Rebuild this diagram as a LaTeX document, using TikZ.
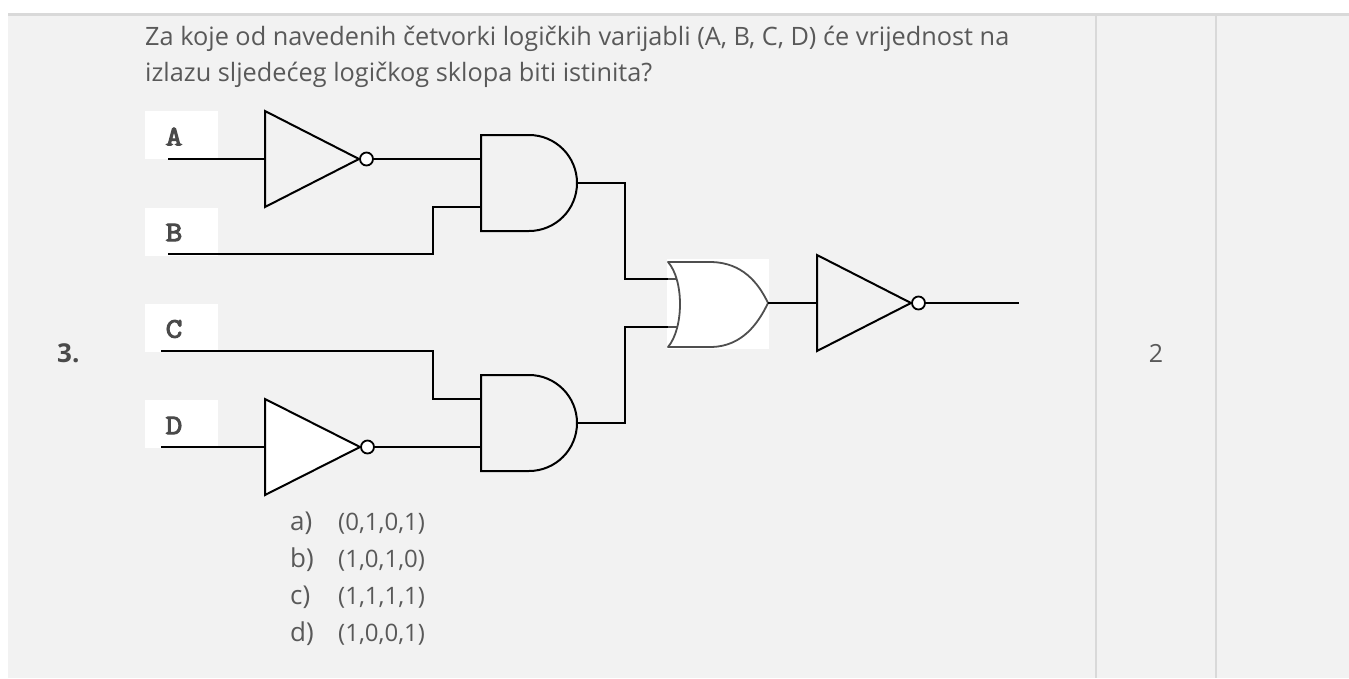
\documentclass[tikz,border=0pt]{standalone}
\usepackage{fontspec}
\setmainfont{Open Sans}
\newfontfamily\monofont[FakeBold=4,FakeStretch=1.15]{Latin Modern Mono}
\definecolor{bg}{HTML}{F2F2F2}
\definecolor{rulec}{HTML}{D9D9D9}
\definecolor{txt}{HTML}{595959}
\definecolor{lbl}{HTML}{4A4A4A}
\definecolor{orline}{HTML}{4F4F4F}
\tikzset{
  wire/.style={line width=2pt,black},
  gate/.style={line width=2pt,black,line join=miter},
  orgate/.style={line width=1.8pt,orline,line join=round},
  bubble/.style={circle,draw=black,line width=1.8pt,fill=white,minimum size=13pt,inner sep=0pt},
  lblbox/.style={fill=white,minimum width=73pt,minimum height=48pt,inner sep=0pt},
  lbltext/.style={inner sep=0pt,text=lbl,font=\monofont\fontsize{28}{32}\selectfont},
  head/.style={anchor=base west,inner sep=0pt,text=txt,font=\fontsize{25.3}{29}\selectfont},
  optl/.style={anchor=base west,inner sep=0pt,text=txt,font=\fontsize{26}{30}\selectfont},
  optv/.style={anchor=base west,inner sep=0pt,text=txt,font=\fontsize{24}{28}\selectfont},
}
\begin{document}
\begin{tikzpicture}[x=1pt,y=-1pt]
\useasboundingbox (0,0) rectangle (1349,678);
% page and table
\fill[white] (0,0) rectangle (1349,678);
\fill[bg] (8,15) rectangle (1349,678);
\fill[rulec] (8,12.5) rectangle (1349,15.5);
\fill[rulec] (1095,15) rectangle (1097,678);
\fill[rulec] (1215,15) rectangle (1217,678);

% texts
\node[head] (q1) at (145,45) {Za koje od navedenih četvorki logičkih varijabli (A, B, C, D) će vrijednost na};
\node[head] (q2) at (145,81) {izlazu sljedećeg logičkog sklopa biti istinita?};
\node[anchor=base west,inner sep=0pt,text=lbl,font=\bfseries\fontsize{26}{30}\selectfont] (num) at (57,362) {3.};
\node[anchor=base,inner sep=0pt,text=txt,font=\fontsize{25}{29}\selectfont] (pts) at (1156,362) {2};

\node[optl] (la) at (290,530) {a)};
\node[optl] (lb) at (290,567) {b)};
\node[optl] (lc) at (290,604) {c)};
\node[optl] (ld) at (290,641) {d)};
\node[optv] (va) at (338,530) {(0,1,0,1)};
\node[optv] (vb) at (338,567) {(1,0,1,0)};
\node[optv] (vc) at (338,604) {(1,1,1,1)};
\node[optv] (vd) at (338,641) {(1,0,0,1)};

% input label boxes
\node[lblbox] (boxA) at (181.5,135) {};
\node[lblbox] (boxB) at (181.5,231.5) {};
\node[lblbox] (boxC) at (181.5,327.5) {};
\node[lblbox] (boxD) at (181.5,423.5) {};
\node[lbltext] (labA) at (174,136.5) {A};
\node[lbltext] (labB) at (174,232.5) {B};
\node[lbltext] (labC) at (174,329) {C};
\node[lbltext] (labD) at (174,425.5) {D};

% coordinates
\coordinate (Ain) at (168,159);
\coordinate (Bin) at (168,254);
\coordinate (Cin) at (161,351);
\coordinate (Din) at (161,447);
\coordinate (nA-in) at (265,159);
\coordinate (nD-in) at (265,447);
\coordinate (n3-in) at (817,303);
\coordinate (and1-in1) at (481,159);
\coordinate (and1-in2) at (481,207);
\coordinate (and1-out) at (577,183);
\coordinate (and2-in1) at (481,399);
\coordinate (and2-in2) at (481,447);
\coordinate (and2-out) at (577,423);
\coordinate (bendB) at (433,207);
\coordinate (bendC) at (433,399);
\coordinate (bend1) at (625,279);
\coordinate (bend2) at (625,327);
\coordinate (or-in1) at (668,279);
\coordinate (or-in2) at (668,327);
\coordinate (or-pin1) at (676.5,279);
\coordinate (or-pin2) at (676.5,327);
\coordinate (or-out) at (768,303);
\coordinate (out) at (1019,303);

% NOT gates
\draw[gate] (265,111) -- (359,159) -- (265,207) -- cycle;
\node[bubble] (nA-b) at (366.5,159) {};
\draw[gate,fill=white] (265,399) -- (360,447) -- (265,495) -- cycle;
\node[bubble] (nD-b) at (367.5,447) {};
\draw[gate] (817,255) -- (911,303) -- (817,351) -- cycle;
\node[bubble] (n3-b) at (918.5,303) {};

% AND gates
\draw[gate] (481,135) -- (529,135) arc[start angle=-90,end angle=90,radius=48] -- (481,231) -- cycle;
\draw[gate] (481,375) -- (529,375) arc[start angle=-90,end angle=90,radius=48] -- (481,471) -- cycle;

% OR gate (white picture box)
\fill[white] (667,259) rectangle (769,349);
\draw[orgate] (668,262) -- (712,262) .. controls (742,263) and (758,282) .. (or-out)
  .. controls (758,324) and (742,346) .. (712,347) -- (668,347)
  .. controls (684,328) and (684,280) .. cycle;
\draw[orgate] (or-in1) -- (or-pin1);
\draw[orgate] (or-in2) -- (or-pin2);

% wires
\draw[wire] (Ain) -- (nA-in);
\draw[wire] (nA-b.east) -- (and1-in1);
\draw[wire] (Bin) -| (bendB) -- (and1-in2);
\draw[wire] (Cin) -| (bendC) -- (and2-in1);
\draw[wire] (Din) -- (nD-in);
\draw[wire] (nD-b.east) -- (and2-in2);
\draw[wire] (and1-out) -| (bend1) -- (or-in1);
\draw[wire] (and2-out) -| (bend2) -- (or-in2);
\draw[wire] (or-out) -- (n3-in);
\draw[wire] (n3-b.east) -- (out);
\end{tikzpicture}
\end{document}
